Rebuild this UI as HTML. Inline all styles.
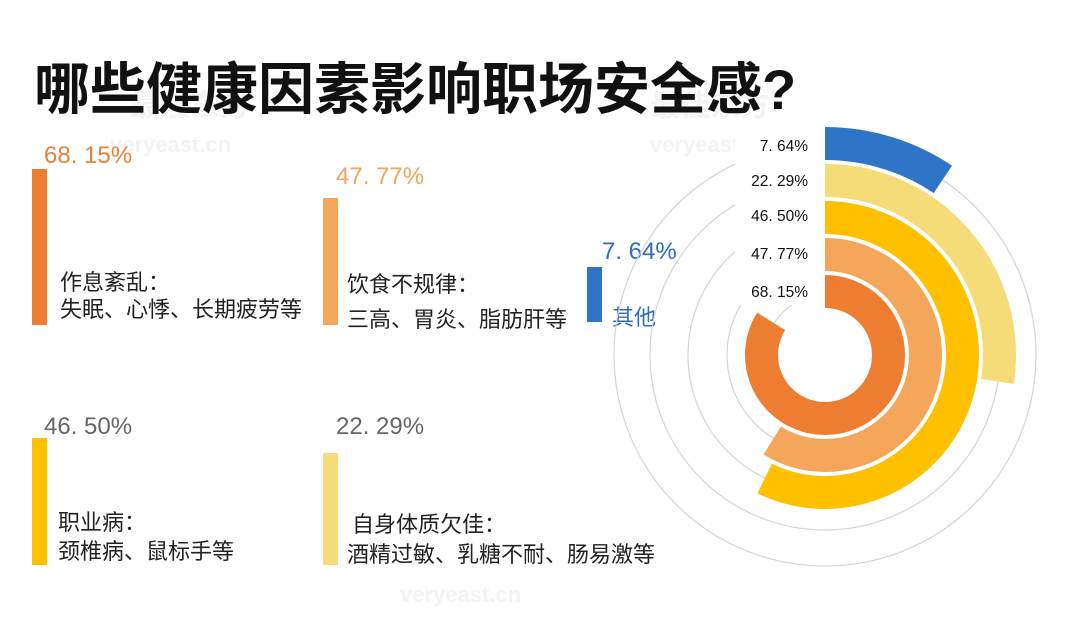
<!DOCTYPE html>
<html><head><meta charset="utf-8"><style>
html,body{margin:0;padding:0;background:#fff;}
body{width:1080px;height:617px;overflow:hidden;position:relative;font-family:"Liberation Sans","Noto Sans CJK SC",sans-serif;}
.t{position:absolute;white-space:nowrap;line-height:30px;}
.bar{position:absolute;}
.lab{font-size:22px;color:#222;}
.pct{font-size:24px;}
.wm{color:#f3f3f3;font-weight:bold;}
</style></head><body>
<div class="t wm" style="left:650px;top:92px;font-size:30px;">最佳东方</div>
<div class="t wm" style="left:650px;top:130px;font-size:22px;">veryeast.cn</div>
<div class="t wm" style="left:130px;top:92px;font-size:30px;">最佳东方</div>
<div class="t wm" style="left:110px;top:130px;font-size:22px;">veryeast.cn</div>
<div class="t wm" style="left:400px;top:580px;font-size:22px;">veryeast.cn</div>
<div class="t" style="left:34px;top:58px;line-height:64px;font-size:56px;font-weight:bold;color:#111;">哪些健康因素影响职场安全感?</div>

<div class="t pct" style="left:44px;top:141px;color:#E8823A;">68. 15%</div>
<div class="bar" style="left:32px;top:169px;width:15px;height:156px;background:#ED7D31;"></div>
<div class="t lab" style="left:60px;top:268px;">作息紊乱：</div>
<div class="t lab" style="left:60px;top:295px;">失眠、心悸、长期疲劳等</div>

<div class="t pct" style="left:336px;top:162px;color:#F0A55A;">47. 77%</div>
<div class="bar" style="left:323px;top:198px;width:15px;height:127px;background:#F4A65A;"></div>
<div class="t lab" style="left:347px;top:270px;">饮食不规律：</div>
<div class="t lab" style="left:347px;top:305px;">三高、胃炎、脂肪肝等</div>

<div class="t pct" style="left:602px;top:237px;color:#2E6DB8;">7. 64%</div>
<div class="bar" style="left:587px;top:267px;width:15px;height:55px;background:#2E75C8;"></div>
<div class="t lab" style="left:612px;top:303px;color:#2E6DB8;">其他</div>

<div class="t pct" style="left:44px;top:412px;color:#666;">46. 50%</div>
<div class="bar" style="left:32px;top:438px;width:15px;height:127px;background:#FFC000;"></div>
<div class="t lab" style="left:58px;top:508px;">职业病：</div>
<div class="t lab" style="left:58px;top:537px;">颈椎病、鼠标手等</div>

<div class="t pct" style="left:336px;top:412px;color:#666;">22. 29%</div>
<div class="bar" style="left:323px;top:453px;width:15px;height:112px;background:#F5DC78;"></div>
<div class="t lab" style="left:352px;top:510px;">自身体质欠佳：</div>
<div class="t lab" style="left:347px;top:540px;">酒精过敏、乳糖不耐、肠易激等</div>

<svg width="1080" height="617" style="position:absolute;left:0;top:0;">
<g fill="none" stroke="#d4d4d4" stroke-width="1.2">
<circle cx="825" cy="355" r="60"/><circle cx="825" cy="355" r="98"/><circle cx="825" cy="355" r="137"/><circle cx="825" cy="355" r="175"/><circle cx="825" cy="355" r="211"/>
</g>
<g fill="none" transform="rotate(-90 825 355)">
<circle cx="825" cy="355" r="63.5" stroke="#ED7D31" stroke-width="33" stroke-dasharray="334.6 2000"/>
<circle cx="825" cy="355" r="100.5" stroke="#F4A65A" stroke-width="33" stroke-dasharray="371.2 2000"/>
<circle cx="825" cy="355" r="137.5" stroke="#FFC000" stroke-width="33" stroke-dasharray="494.3 2000"/>
<circle cx="825" cy="355" r="174.5" stroke="#F5DC78" stroke-width="33" stroke-dasharray="300.6 2000"/>
<circle cx="825" cy="355" r="211.5" stroke="#2E75C8" stroke-width="33" stroke-dasharray="125 2000"/>
</g>
<rect x="735" y="125" width="90" height="180" fill="#fff"/>
<g font-family="Liberation Sans, Noto Sans CJK SC, sans-serif" font-size="15.5" fill="#111" text-anchor="end">
<text x="808" y="151">7. 64%</text>
<text x="808" y="186">22. 29%</text>
<text x="808" y="221">46. 50%</text>
<text x="808" y="259">47. 77%</text>
<text x="808" y="297">68. 15%</text>
</g>
</svg>
</body></html>
